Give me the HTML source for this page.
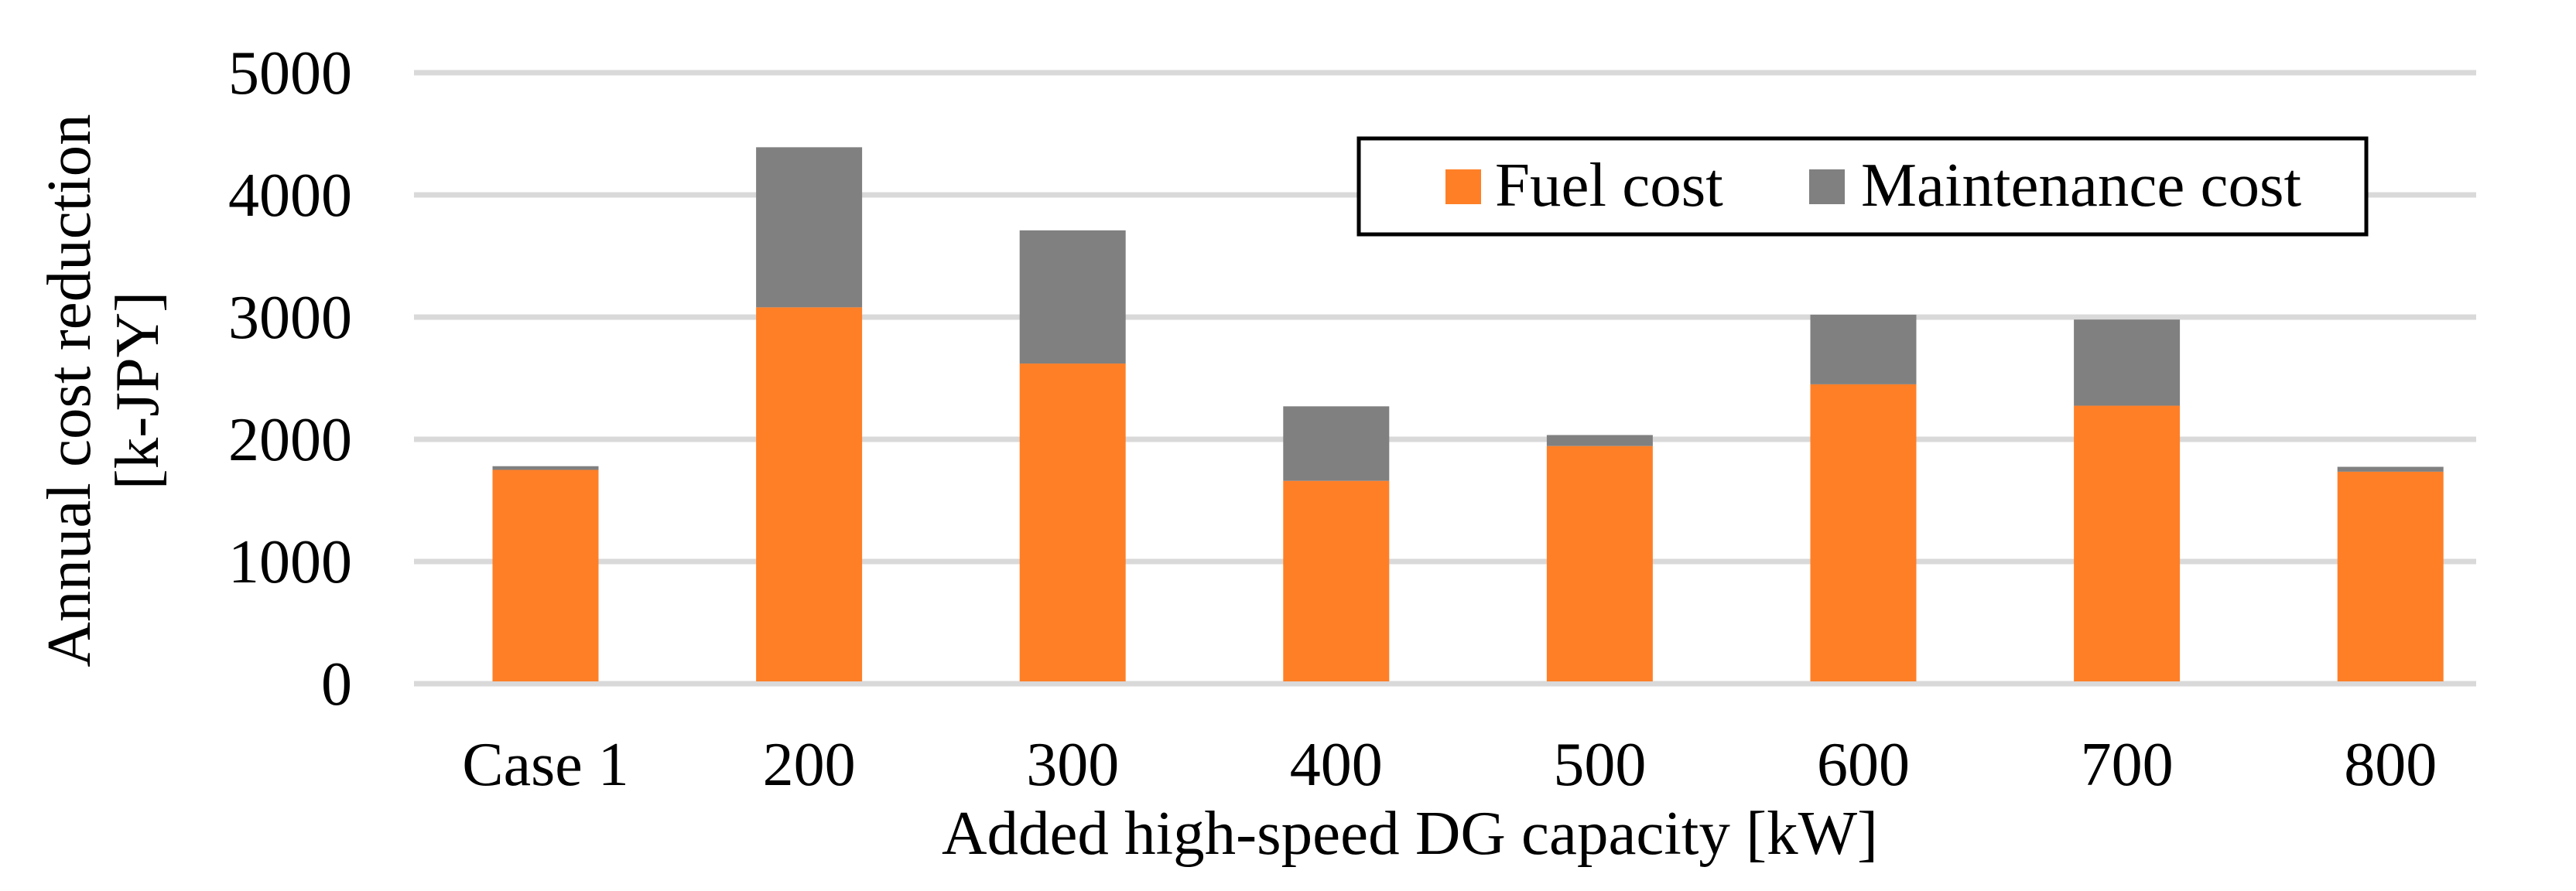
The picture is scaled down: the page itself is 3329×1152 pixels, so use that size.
<!DOCTYPE html>
<html><head><meta charset="utf-8"><style>
html,body{margin:0;padding:0;background:#fff;}
svg{display:block;}
text{font-family:"Liberation Serif",serif;fill:#000;}
</style></head><body>
<svg id="chart" width="3329" height="1152" viewBox="0 0 3329 1152">
<g id="grid"></g>
<g id="yticks"></g>
<g id="bars"></g>
<g id="xticks"></g>
<text x="1822" y="1104" font-size="81" text-anchor="middle">Added high-speed DG capacity [kW]</text>
<g transform="translate(0,505) rotate(-90)">
<text x="0" y="116" font-size="81" text-anchor="middle">Annual cost reduction</text>
<text x="0" y="204" font-size="81" text-anchor="middle">[k-JPY]</text>
</g>
<g>
<rect x="1756" y="179" width="1302" height="124" fill="#fff" stroke="#000" stroke-width="5"/>
<rect x="1868" y="219" width="46" height="45" fill="#FF7F27"/>
<text x="1932" y="266" font-size="81">Fuel cost</text>
<rect x="2338" y="219" width="46" height="45" fill="#808080"/>
<text x="2405" y="266" font-size="81">Maintenance cost</text>
</g>
</svg>
<script>
const categories = ["Case 1","200","300","400","500","600","700","800"];
const fuelCost = [1750,3080,2620,1660,1945,2450,2275,1735];
const maintenanceCost = [30,1310,1090,610,90,570,705,40];
const yTicks = [0,1000,2000,3000,4000,5000];

const NS="http://www.w3.org/2000/svg";
const gx0=535,gx1=3200,y0=884,yTop=94,yMax=5000;
const firstC=705,bw=340.6;
function xc(i){return firstC+bw*i;}
function y(v){return y0-(v/yMax)*(y0-yTop);}
function mk(tag,attrs,parent){const e=document.createElementNS(NS,tag);for(const k in attrs)e.setAttribute(k,attrs[k]);parent.appendChild(e);return e;}
const grid=document.getElementById('grid'),yt=document.getElementById('yticks'),bars=document.getElementById('bars'),xt=document.getElementById('xticks');
yTicks.forEach(v=>{
  const l=mk('line',{x1:gx0,x2:gx1,y1:y(v),y2:y(v),stroke:'#d9d9d9','stroke-width':7},grid);
  
  
  const t=mk('text',{x:455,y:y(v)+27,'font-size':80,'text-anchor':'end'},yt);
  t.textContent=v;
  
  
});
const barW=137;
categories.forEach((c,i)=>{
  const f=fuelCost[i],m=maintenanceCost[i];
  const r1=mk('rect',{x:xc(i)-barW/2,y:y(f),width:barW,height:y(0)-y(f)-3,fill:'#FF7F27'},bars);
  
  
  const r2=mk('rect',{x:xc(i)-barW/2,y:y(f+m),width:barW,height:y(f)-y(f+m),fill:'#808080'},bars);
  
  
  const t=mk('text',{x:xc(i),y:1015,'font-size':80,'text-anchor':'middle'},xt);
  t.textContent=c;
  
  
});
</script>
</body></html>
